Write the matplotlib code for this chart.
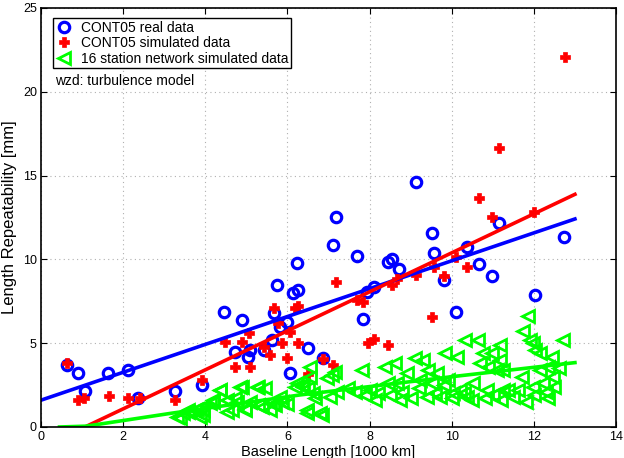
import matplotlib
matplotlib.use("Agg")
import matplotlib.pyplot as plt
import numpy as np

plt.rcParams["font.family"] = ["Liberation Sans", "DejaVu Sans"]

# CONT05 real data (baseline length [1000 km], repeatability [mm])
real_x = [0.63, 0.91, 1.07, 1.64, 2.13, 2.37, 3.26, 3.91, 4.46, 4.89, 4.72, 5.03, 5.09, 5.43,
          5.62, 5.68, 5.74, 5.82, 5.98, 6.06, 6.14, 6.26, 6.24, 6.49, 6.86, 7.12, 7.18,
          7.69, 7.84, 7.93, 8.11, 8.45, 8.55, 8.71, 9.12, 9.53, 9.57, 9.80, 10.10, 10.36,
          10.66, 10.97, 11.16, 12.02, 12.73]
real_y = [3.70, 3.21, 2.14, 3.21, 3.40, 1.71, 2.14, 2.50, 6.86, 6.40, 4.50, 4.19, 4.59, 4.57,
          5.19, 6.81, 8.47, 5.98, 6.28, 3.20, 7.98, 8.20, 9.77, 4.70, 4.10, 10.86, 12.55,
          10.20, 6.44, 8.07, 8.37, 9.85, 10.00, 9.41, 14.64, 11.56, 10.40, 8.77, 6.86, 10.74,
          9.72, 9.03, 12.15, 7.88, 11.36]

# CONT05 simulated data
sim_x = [0.64, 0.89, 1.05, 1.66, 2.13, 2.41, 3.26, 3.91, 4.48, 4.72, 4.90, 5.06, 5.09, 5.43,
         5.58, 5.68, 5.78, 5.86, 5.98, 6.06, 6.18, 6.26, 6.26, 6.51, 6.86, 7.12, 7.18,
         7.70, 7.83, 7.97, 8.11, 8.45, 8.54, 8.66, 9.13, 9.51, 9.57, 9.80, 10.10, 10.37,
         10.67, 10.97, 11.16, 12.01, 12.76]
sim_y = [3.80, 1.61, 1.71, 1.85, 1.75, 1.71, 1.61, 2.80, 5.09, 3.56, 5.05, 5.59, 3.60, 4.79,
         4.30, 7.08, 6.19, 4.99, 4.10, 5.69, 7.12, 7.22, 4.99, 3.16, 4.04, 3.70, 8.67,
         7.58, 7.48, 5.03, 5.23, 4.89, 8.47, 8.81, 9.07, 6.54, 9.53, 9.01, 10.16, 9.53,
         13.65, 12.55, 16.65, 12.85, 22.05]

# 16 station network simulated data
net_x = [3.30, 3.38, 3.46, 3.58, 3.58, 3.75, 3.79, 3.87, 3.95, 3.95, 4.11, 4.19, 4.19, 4.36,
         4.36, 4.52, 4.52, 4.64, 4.72, 4.76, 4.84, 4.89, 4.97, 4.97, 5.09, 5.25, 5.29, 5.29,
         5.37, 5.45, 5.58, 5.66, 5.70, 5.82, 5.86, 5.98, 6.18, 6.23, 6.35, 6.39, 6.47, 6.47,
         6.50, 6.55, 6.55, 6.63, 6.67, 6.79, 6.83, 6.96, 7.04, 7.08, 7.16, 7.20, 7.48, 7.64,
         7.81, 7.89, 8.01, 8.13, 8.20, 8.38, 8.46, 8.50, 8.62, 8.66, 8.74, 8.80, 8.90, 9.00,
         9.11, 9.20, 9.23, 9.31, 9.40, 9.43, 9.51, 9.60, 9.64, 9.72, 9.80, 9.84, 9.92, 10.00,
         10.04, 10.12, 10.20, 10.30, 10.32, 10.37, 10.50, 10.53, 10.65, 10.69, 10.77, 10.80,
         10.85, 10.89, 10.97, 11.00, 11.10, 11.18, 11.18, 11.20, 11.26, 11.26, 11.38, 11.50,
         11.62, 11.70, 11.74, 11.80, 11.86, 11.91, 11.99, 11.99, 12.00, 12.03, 12.15, 12.15,
         12.23, 12.30, 12.35, 12.35, 12.43, 12.47, 12.50, 12.60, 12.72]
net_y = [0.62, 0.54, 0.83, 1.00, 0.90, 1.00, 1.10, 0.62, 1.00, 0.70, 1.43, 1.60, 1.50, 2.20,
         2.20, 1.60, 0.90, 1.00, 1.70, 1.50, 2.40, 2.40, 1.00, 1.10, 1.50, 2.40, 2.40, 1.30,
         1.20, 2.30, 1.00, 1.40, 1.30, 1.80, 1.50, 1.40, 2.40, 2.60, 2.50, 2.40, 1.00, 0.82,
         2.30, 3.60, 3.00, 2.00, 1.70, 0.82, 0.70, 2.90, 1.80, 3.10, 3.30, 2.10, 2.30, 2.10,
         3.40, 1.90, 2.20, 1.60, 2.00, 3.60, 2.60, 1.90, 3.80, 2.60, 1.60, 2.10, 3.20, 1.70,
         4.10, 2.30, 2.80, 4.00, 1.80, 3.40, 2.60, 2.00, 3.20, 1.80, 2.50, 4.40, 2.80, 1.70,
         2.00, 4.20, 2.20, 2.00, 5.20, 1.80, 1.60, 2.60, 5.20, 3.80, 4.40, 1.70,
         2.20, 3.60, 4.40, 1.90, 3.40, 4.90, 4.00, 1.60, 2.20, 3.40, 2.20, 1.80,
         2.20, 3.00, 5.70, 1.50, 6.60, 5.20, 5.00, 2.40, 1.90, 4.60, 4.40, 3.40,
         2.60, 2.10, 3.60, 1.70, 4.20, 3.00, 2.40, 3.50, 5.20]

# fitted trend lines
real_fit_x = [0.0, 13.0]
real_fit_y = [1.60, 12.41]
sim_fit_x = [1.07, 13.0]
sim_fit_y = [0.0, 13.88]
net_fit_x = [0.45, 1.1, 3.2, 6.3, 10.0, 13.0]
net_fit_y = [0.0, 0.05, 0.83, 1.91, 3.0, 3.84]

fig = plt.figure(figsize=(6.24, 4.58), dpi=100)
ax = fig.add_axes([0.0657, 0.0677, 0.9215, 0.915])

ax.plot(real_x, real_y, "o", mfc="none", mec=(0, 0, 1), mew=2.3, ms=7.5, ls="none",
        label="CONT05 real data")
ax.plot(sim_x, sim_y, "P", color=(1, 0, 0), mec=(1, 0, 0), ms=6.5, mew=0.5, ls="none",
        label="CONT05 simulated data")
ax.plot(net_x, net_y, "<", mfc="none", mec=(0, 1, 0), mew=2.0, ms=8, ls="none",
        label="16 station network simulated data")

ax.plot(real_fit_x, real_fit_y, color=(0, 0, 1), lw=2.6)
ax.plot(sim_fit_x, sim_fit_y, color=(1, 0, 0), lw=2.6)
ax.plot(net_fit_x, net_fit_y, color=(0, 1, 0), lw=2.6)

ax.set_xlim(0, 14)
ax.set_ylim(0, 25)
ax.set_xticks(np.arange(0, 15, 2))
ax.set_yticks(np.arange(0, 26, 5))
ax.grid(True, ls=(0, (1, 3)), color="#b0b0b0", lw=0.8)
ax.tick_params(direction="in", top=True, right=True, labelsize=9, length=4, pad=3)
for s in ax.spines.values():
    s.set_linewidth(1.2)

ax.set_xlabel("Baseline Length [1000 km]", fontsize=10.5, labelpad=1)
ax.set_ylabel("Length Repeatability [mm]", fontsize=12, labelpad=4)

leg = ax.legend(loc="upper left", bbox_to_anchor=(0.021, 0.976), fontsize=10, frameon=True,
                fancybox=False, edgecolor="black", framealpha=1, handlelength=1.2,
                handletextpad=0.6, borderpad=0.2, labelspacing=0.1, borderaxespad=0)
leg.get_frame().set_linewidth(1.0)

ax.text(0.024, 0.826, "wzd: turbulence model", transform=ax.transAxes, fontsize=10,
        va="center", ha="left")

fig.savefig("out.png", dpi=100)
